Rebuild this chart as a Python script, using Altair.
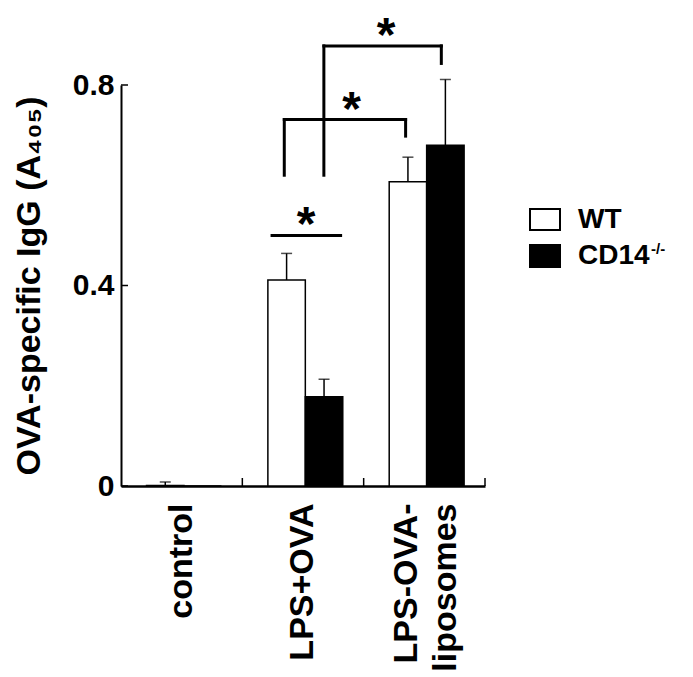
import altair as alt
import pandas as pd

# ---------------- data ----------------
categories = ["control", "LPS+OVA", "LPS-OVA-liposomes"]
groups = ["WT", "CD14"]
wt_mean = [0.001, 0.411, 0.607]
wt_err = [0.007, 0.053, 0.049]
cd14_mean = [0.0, 0.178, 0.680]
cd14_err = [0.0, 0.035, 0.131]
y_ticks = [0, 0.4, 0.8]

# significance brackets (x in category units 0..3, y in data units)
seg_x1 = [1.245, 1.3457, 1.3457, 2.3457, 1.672, 1.672, 2.64]
seg_x2 = [1.81, 1.3457, 2.3457, 2.3457, 1.672, 2.64, 2.64]
seg_y1 = [0.50, 0.620, 0.731, 0.731, 0.620, 0.878, 0.878]
seg_y2 = [0.50, 0.731, 0.731, 0.698, 0.878, 0.878, 0.843]
star_x = [1.525, 1.90, 2.185]
star_y = [0.50, 0.731, 0.878]
band_edges = [1, 2, 3]

FONT = "Liberation Sans"
W, H = 364, 401

rows = []
for i, c in enumerate(categories):
    rows.append({"cat": c, "group": "WT", "mean": wt_mean[i], "err": wt_err[i],
                 "upper": wt_mean[i] + wt_err[i]})
    rows.append({"cat": c, "group": "CD14", "mean": cd14_mean[i], "err": cd14_err[i],
                 "upper": cd14_mean[i] + cd14_err[i]})
bars_df = pd.DataFrame(rows)
seg_df = pd.DataFrame({"x1": seg_x1, "x2": seg_x2, "y1": seg_y1, "y2": seg_y2})
star_df = pd.DataFrame({"x": star_x, "y": star_y, "t": ["*"] * len(star_x)})
edge_df = pd.DataFrame({"p": band_edges})
ytick_df = pd.DataFrame({"v": y_ticks})

yscale = alt.Scale(domain=[0, 0.8], nice=False, zero=True)
xband = alt.Scale(domain=categories, paddingInner=0, paddingOuter=0)
xoff = alt.XOffset("group:N", scale=alt.Scale(domain=groups, paddingOuter=0.62,
                                               paddingInner=0, align=0.55))
xq = alt.Scale(domain=[0, 3], nice=False, zero=False)

x_axis = alt.Axis(
    title=None, labelAngle=270, labelAlign="right", labelBaseline="middle",
    labelFont=FONT, labelFontSize=34, labelFontWeight="bold", labelColor="black",
    labelPadding=17, ticks=False, domainWidth=2.5, domainColor="black",
    labelLimit=0, labelLineHeight=39,
    labelOffset={"condition": {"test": "datum.value == 'LPS-OVA-liposomes'", "value": -17},
                 "value": 0},
    labelExpr="datum.label == 'LPS-OVA-liposomes' ? ['LPS-OVA-', 'liposomes'] : datum.label",
)
y_axis = alt.Axis(
    values=y_ticks, title="OVA-specific IgG (A₄₀₅)", titleFont=FONT, titleFontSize=34,
    titleFontWeight="bold", titleColor="black", titlePadding=26,
    labelFont=FONT, labelFontSize=30, labelFontWeight="bold", labelColor="black",
    labelPadding=7, ticks=False, domainWidth=2, domainColor="black", grid=False,
    labelFlush=False,
    labelExpr="datum.value == 0 ? '0' : format(datum.value, '.1f')",
)

base = alt.Chart(bars_df)
bars = base.mark_bar(stroke="black", strokeWidth=1.5).encode(
    x=alt.X("cat:N", scale=xband, axis=x_axis),
    xOffset=xoff,
    y=alt.Y("mean:Q", scale=yscale, axis=y_axis),
    fill=alt.Fill("group:N", scale=alt.Scale(domain=groups, range=["white", "black"]), legend=None),
)
errs = base.transform_filter("datum.err > 0").mark_rule(color="black", strokeWidth=1.5).encode(
    x=alt.X("cat:N", scale=xband), xOffset=xoff,
    y=alt.Y("mean:Q", scale=yscale), y2="upper:Q",
)
caps = base.transform_filter("datum.err > 0").mark_tick(
    color="black", orient="horizontal", size=11, thickness=1.5
).encode(
    x=alt.X("cat:N", scale=xband), xOffset=xoff,
    y=alt.Y("upper:Q", scale=yscale),
)
main = alt.layer(bars, errs, caps)

segs = alt.Chart(seg_df).mark_rule(color="black", strokeWidth=3, strokeCap="square").encode(
    x=alt.X("x1:Q", scale=xq, axis=None), x2="x2:Q",
    y=alt.Y("y1:Q", scale=yscale), y2="y2:Q",
)
stars = alt.Chart(star_df).mark_text(
    font=FONT, fontSize=48, fontWeight="bold", color="black",
    baseline="alphabetic", align="center", dy=5,
).encode(
    x=alt.X("x:Q", scale=xq, axis=None), y=alt.Y("y:Q", scale=yscale), text="t:N",
)
xticks = alt.Chart(edge_df).mark_rule(color="black", strokeWidth=1.5).encode(
    x=alt.X("p:Q", scale=xq, axis=None), y=alt.value(H), y2=alt.value(H - 8),
)
yticks = alt.Chart(ytick_df).mark_rule(color="black", strokeWidth=1.5).encode(
    y=alt.Y("v:Q", scale=yscale), x=alt.value(0), x2=alt.value(7),
)
ann = alt.layer(segs, stars, xticks, yticks)

one = pd.DataFrame({"k": [0]})
leg_wt = alt.Chart(one).mark_rect(fill="white", stroke="black", strokeWidth=2).encode(
    x=alt.value(409), x2=alt.value(439), y=alt.value(124), y2=alt.value(145))
leg_cd = alt.Chart(one).mark_rect(fill="black", stroke="black", strokeWidth=2).encode(
    x=alt.value(409), x2=alt.value(439), y=alt.value(160), y2=alt.value(182))
leg_t1 = alt.Chart(one).mark_text(font=FONT, fontSize=28, fontWeight="bold", color="black",
                                  align="left", baseline="alphabetic").encode(
    x=alt.value(457), y=alt.value(143), text=alt.value("WT"))
leg_t2 = alt.Chart(one).mark_text(font=FONT, fontSize=28, fontWeight="bold", color="black",
                                  align="left", baseline="alphabetic").encode(
    x=alt.value(457), y=alt.value(179), text=alt.value("CD14"))
leg_t3 = alt.Chart(one).mark_text(font=FONT, fontSize=15, fontWeight="bold", color="black",
                                  align="left", baseline="alphabetic").encode(
    x=alt.value(530), y=alt.value(169), text=alt.value("-/-"))

chart = alt.layer(main, ann, leg_wt, leg_cd, leg_t1, leg_t2, leg_t3).resolve_scale(
    x="independent"
).properties(
    width=W, height=H, padding={"left": 4, "top": 4, "right": 0, "bottom": 0}
).configure_view(stroke=None)

chart.save("out.html", embed_options={"renderer": "svg", "actions": False})
